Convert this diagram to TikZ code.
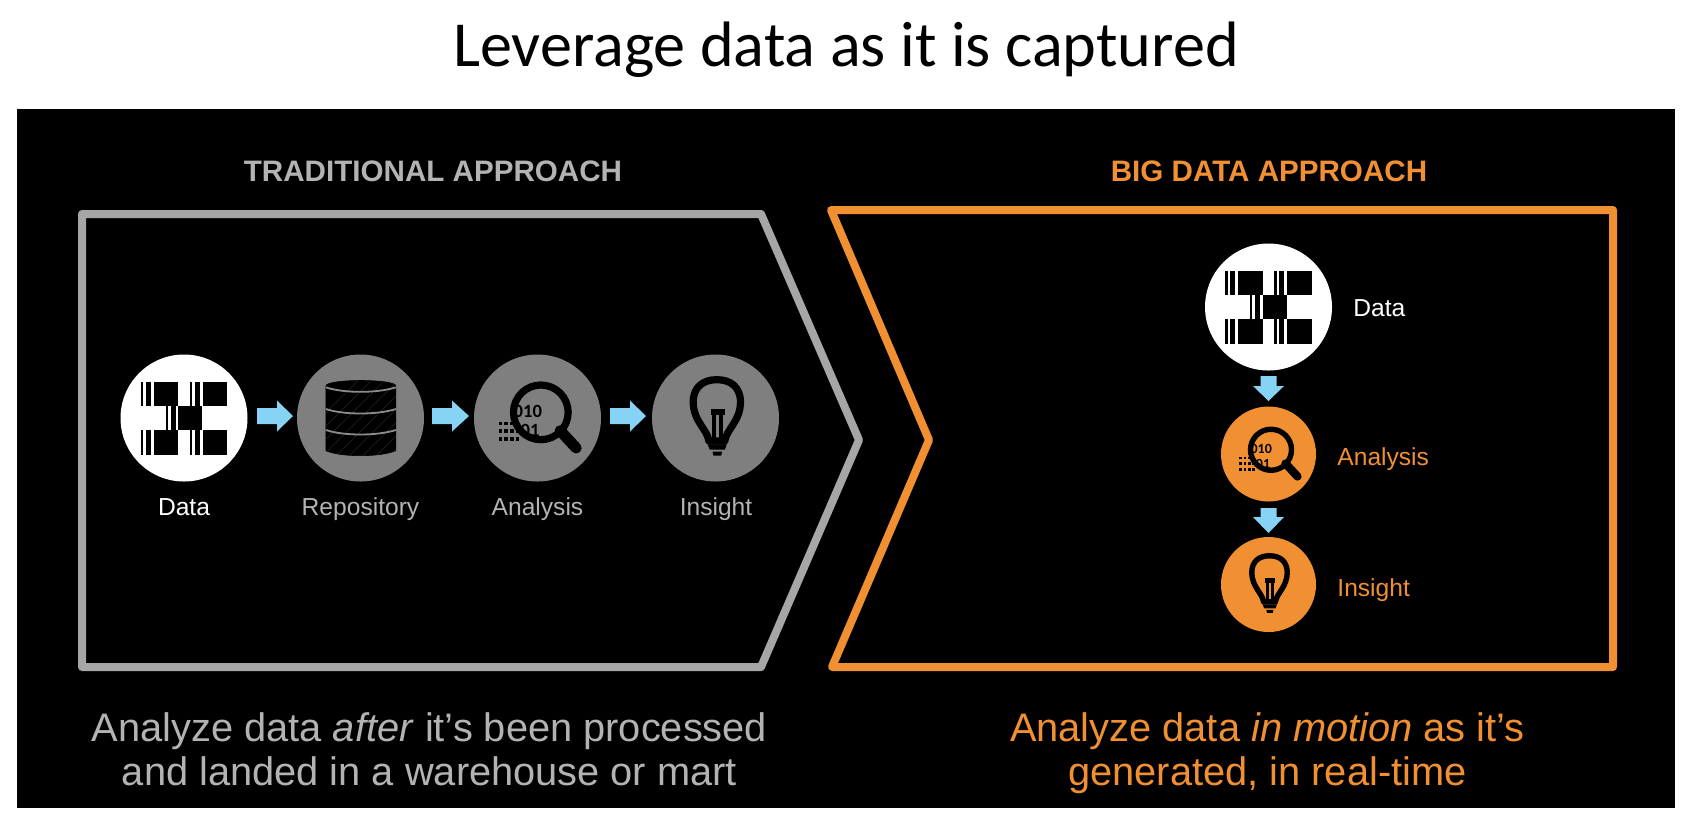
\documentclass[tikz,border=0pt]{standalone}
\usepackage{fontspec}
\setmainfont{Liberation Sans}
\newfontfamily\titlefont{Carlito}
\definecolor{frameGray}{HTML}{A6A6A6}
\definecolor{textGray}{HTML}{B3B3B3}
\definecolor{discGray}{HTML}{7F7F7F}
\definecolor{bandGray}{HTML}{8C8C8C}
\definecolor{hatchGray}{HTML}{1E1E1E}
\definecolor{bigOrange}{HTML}{F09033}
\definecolor{flowBlue}{HTML}{87D3F5}
\tikzset{
  disc/.style={circle,inner sep=0pt,minimum size=#1*0.5pt},
  frameline/.style={line width=4pt,line join=round},
  headtext/.style={font=\bfseries\fontsize{14.8}{18}\selectfont,anchor=base},
  labeltext/.style={font=\fontsize{12.3}{14}\selectfont,anchor=base},
  sidetext/.style={font=\fontsize{12.3}{14}\selectfont,anchor=base west},
  caption/.style={font=\fontsize{19.9}{22}\selectfont,align=center},
  pics/blockarrow/.style 2 args={code={
    \fill[flowBlue] (0,-8)--(#1,-8)--(#1,-15.5)--(#2,0)--(#1,15.5)--(#1,8)--(0,8)--cycle;
  }},
  pics/dataicon/.style={code={
    \begin{scope}[scale=#1/3]
      \foreach \oy in {-109,37}{
        \foreach \ox in {-130,17}{
          \fill[black] (\ox,\oy) rectangle ++(7,73);
          \fill[black] (\ox+15,\oy) rectangle ++(15,73);
          \fill[black] (\ox+39,\oy) rectangle ++(74,73);
        }
      }
      \fill[black] (-55,-36) rectangle ++(6,73);
      \fill[black] (-40,-36) rectangle ++(15,73);
      \fill[black] (-17,-36) rectangle ++(72,73);
    \end{scope}
  }},
  pics/repoicon/.style={code={
    \begin{scope}[scale=#1/3]
      \path[fill=black,draw=black,line width=0.3pt]
        (-104,-96) .. controls (-104,-118) and (106,-118) .. (106,-96)
        -- (106,98) .. controls (60,118) and (-60,118) .. (-104,98) -- cycle;
      \begin{scope}
        \clip (-104,-96) .. controls (-104,-118) and (106,-118) .. (106,-96)
        -- (106,98) .. controls (60,118) and (-60,118) .. (-104,98) -- cycle;
        \foreach \d in {-240,-200,...,160}{
          \draw[line width=0.35pt,color=hatchGray] (\d,120) -- (\d+240,-120);
        }
      \end{scope}
      \foreach \b in {-92,-27,36}{
        \draw[line width=0.9pt,color=bandGray]
          (-104,\b) .. controls (-50,\b+18) and (50,\b+18) .. (106,\b);
      }
    \end{scope}
  }},
  pics/lensicon/.style={code={
    \begin{scope}[scale=#1/3]
      \node[transform shape,inner sep=0pt,font=\titlefont\bfseries\fontsize{28}{30}\selectfont] at (-29,-19) {010};
      \node[transform shape,inner sep=0pt,font=\titlefont\bfseries\fontsize{28}{30}\selectfont] at (-22,38) {01};
      \foreach \px/\py in {-111/16,-94/16,-77/16,-111/38,-94/38,-77/38,-60/38,-111/62,-94/62,-77/62,-60/62}{
        \fill[black] (\px-5.5,\py-5.5) rectangle ++(11,11);
      }
      \draw[black,line width=#1*3.6pt] (10,-17) circle [radius=82];
      \draw[black,line width=#1*5.5pt,line cap=round] (68,38) -- (116,90);
    \end{scope}
  }},
  pics/bulbicon/.style={code={
    \begin{scope}[scale=#1/3]
      \draw[black,line width=#1*3.6pt,line join=round]
        (-20,69) .. controls (-24,35) and (-66,10) .. (-67,-47)
        .. controls (-67,-95) and (-35,-115) .. (4,-115)
        .. controls (43,-115) and (75,-95) .. (75,-47)
        .. controls (74,10) and (32,35) .. (28,69) -- cycle;
      \draw[black,line width=#1*3pt] (-15,-17) -- (27,-17);
      \draw[black,line width=#1*2pt] (-4,-17) -- (-4,69);
      \draw[black,line width=#1*2pt] (16,-17) -- (16,69);
      \fill[black] (-24,79) -- (34,79) -- (28,95) -- (-17,95) -- cycle;
      \fill[black] (-9,101) -- (20,101) -- (17,113) -- (-6,113) -- cycle;
    \end{scope}
  }},
}
\begin{document}
\begin{tikzpicture}[x=0.5pt,y=-0.5pt]
\useasboundingbox (0,0) rectangle (1696,832);
\fill[white] (0,0) rectangle (1696,832);
\fill[black] (17,109) rectangle (1675,808);
\node[font=\titlefont\fontsize{32.1}{36}\selectfont,anchor=base,text=black] (title) at (846,66) {Leverage data as it is captured};
\node[headtext,text=textGray] (trad) at (433,181) {TRADITIONAL APPROACH};
\node[headtext,text=bigOrange] (big) at (1269,181) {BIG DATA APPROACH};
\draw[frameline,frameGray] (82,214) -- (761,214) -- (859,440) -- (761,667) -- (82,667) -- cycle;
\draw[frameline,bigOrange] (831,210) -- (1613,210) -- (1613,667) -- (832,667) -- (929,440) -- cycle;
% left row
\node[disc=127,fill=white] (d1) at (184,418) {};
\node[disc=127,fill=discGray] (r1) at (360.5,418) {};
\node[disc=127,fill=discGray] (a1) at (537.5,418) {};
\node[disc=127,fill=discGray] (i1) at (715.5,418) {};
\pic at (d1.center) {dataicon=1};
\pic at (r1.center) {repoicon=1};
\pic at (a1.center) {lensicon=1};
\pic at (i1.center) {bulbicon=1};
\coordinate (arrA) at (257,416);
\coordinate (arrB) at (432,416);
\coordinate (arrC) at (610,416);
\pic at (arrA) {blockarrow={20}{36}};
\pic at (arrB) {blockarrow={20}{37}};
\pic at (arrC) {blockarrow={20}{36}};
\node[labeltext,text=white] (ld1) at (184,515) {Data};
\node[labeltext,text=textGray] (lr1) at (360.5,515) {Repository};
\node[labeltext,text=textGray] (la1) at (537.5,515) {Analysis};
\node[labeltext,text=textGray] (li1) at (716,515) {Insight};
% right column
\node[disc=127,fill=white] (d2) at (1268.5,307) {};
\node[disc=95,fill=bigOrange] (a2) at (1268.5,454) {};
\node[disc=95,fill=bigOrange] (i2) at (1268.5,584.5) {};
\pic at (d2.center) {dataicon=1};
\pic at (a2.center) {lensicon=0.75};
\pic at (i2.center) {bulbicon=0.75};
\coordinate (arrD) at (1268.5,376);
\coordinate (arrE) at (1268.5,508);
\pic[rotate=-90] at (arrD) {blockarrow={10}{25}};
\pic[rotate=-90] at (arrE) {blockarrow={9}{25}};
\node[sidetext,text=white,inner sep=0pt] (ld2) at (1353,316) {Data};
\node[sidetext,text=bigOrange,inner sep=0pt] (la2) at (1337,465) {Analysis};
\node[sidetext,text=bigOrange,inner sep=0pt] (li2) at (1337,596) {Insight};
% captions
\node[caption,text=textGray,inner sep=0pt] (c1) at (429.5,755) {\strut Analyze data \emph{after} it’s been processed\\\strut and landed in a warehouse or mart};
\node[caption,text=bigOrange,inner sep=0pt] (c2) at (1267.5,755) {\strut Analyze data \emph{in motion} as it’s\\\strut generated, in real-time};
\end{tikzpicture}
\end{document}
